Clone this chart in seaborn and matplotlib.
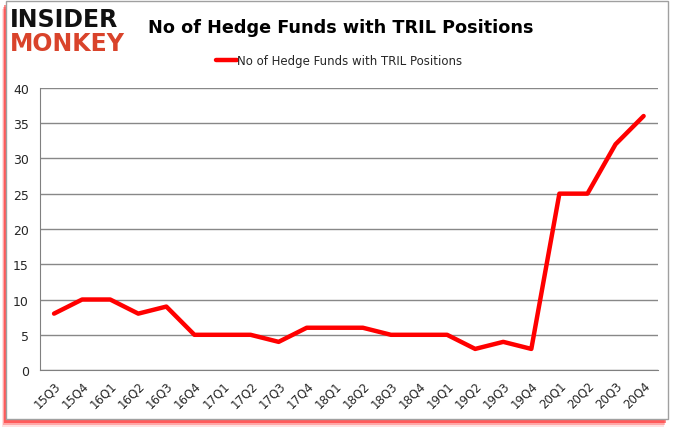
import numpy as np
import pandas as pd
import matplotlib
matplotlib.use("Agg")
import matplotlib.pyplot as plt
from matplotlib.patches import Rectangle
import seaborn as sns

quarters = ['15Q3', '15Q4', '16Q1', '16Q2', '16Q3', '16Q4', '17Q1', '17Q2', '17Q3', '17Q4',
            '18Q1', '18Q2', '18Q3', '18Q4', '19Q1', '19Q2', '19Q3', '19Q4', '20Q1', '20Q2',
            '20Q3', '20Q4']
funds = [8, 10, 10, 8, 9, 5, 5, 5, 4, 6, 6, 6, 5, 5, 5, 3, 4, 3, 25, 25, 32, 36]
series_name = 'No of Hedge Funds with TRIL Positions'

df = pd.DataFrame({'quarter': quarters, 'funds': funds})
df['pos'] = np.arange(len(quarters))

sns.set_style('white')
plt.rcParams['font.family'] = ['DejaVu Sans']

fig = plt.figure(figsize=(6.78, 4.31), dpi=100)

# frame with soft red shadow (bottom / left)
for off, a in [(0.018, 0.12), (0.013, 0.25), (0.008, 0.45)]:
    fig.patches.append(Rectangle((0.009 - off * 0.3, 0.025 - off), 0.976, 0.97,
                                 transform=fig.transFigure, facecolor='#ff0000',
                                 edgecolor='none', alpha=a, zorder=-3))
fig.patches.append(Rectangle((0.009, 0.025), 0.976, 0.97, transform=fig.transFigure,
                             facecolor='white', edgecolor='#a0a0a0', lw=1.0, zorder=-2))

ax = fig.add_axes([0.059, 0.139, 0.911, 0.655])
sns.lineplot(data=df, x='pos', y='funds', ax=ax, color='#ff0000', lw=3.2,
             label=series_name, legend=False)

ax.set_xlim(-0.5, len(quarters) - 0.5)
ax.set_ylim(0, 40)
ax.set_yticks(range(0, 41, 5))
ax.set_xticks(np.arange(len(quarters)))
ax.set_xticklabels(quarters, rotation=45, ha='right', rotation_mode='anchor', fontsize=8.5)
ax.set_xticks(np.arange(-0.5, len(quarters)), minor=True)
ax.tick_params(axis='x', which='major', length=0, pad=6)
ax.tick_params(axis='x', which='minor', length=5, color='#808080', width=1)
ax.tick_params(axis='y', length=5, color='#808080', width=1, labelsize=9, pad=3)
ax.yaxis.grid(True, color='#888888', lw=1)
ax.set_axisbelow(True)
for s in ['top', 'right']:
    ax.spines[s].set_visible(False)
for s in ['left', 'bottom']:
    ax.spines[s].set_color('#808080')
ax.set_xlabel('')
ax.set_ylabel('')
ax.patch.set_alpha(0)

# title and legend
fig.text(0.502, 0.935, series_name, ha='center', va='center', fontsize=12.7,
         fontweight='bold', color='#000000')
fig.legend(handles=ax.get_lines(), labels=[series_name], loc='center',
           bbox_to_anchor=(0.5, 0.857), frameon=False, fontsize=8.5,
           handlelength=1.8, handletextpad=0.0)

# logo
fig.text(0.014, 0.953, 'INSIDER', ha='left', va='center', fontsize=17,
         fontweight='heavy', color='#111111')
fig.text(0.014, 0.897, 'MONKEY', ha='left', va='center', fontsize=17,
         fontweight='heavy', color='#d9432b')

fig.savefig('out.png', dpi=100)
